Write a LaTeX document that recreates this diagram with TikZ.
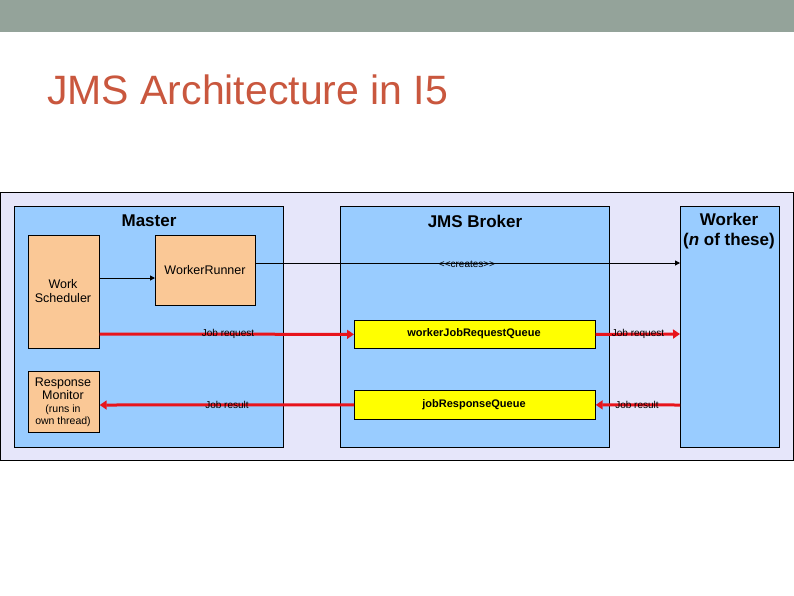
\documentclass[tikz,border=0pt]{standalone}
\usepackage{fontspec}
\setmainfont{Liberation Sans}
\usetikzlibrary{arrows.meta}
\definecolor{bar}{HTML}{94A39A}
\definecolor{ttl}{HTML}{C9573E}
\definecolor{outer}{HTML}{E6E6FA}
\definecolor{blue}{HTML}{99CCFF}
\definecolor{peach}{HTML}{FAC896}
\definecolor{yel}{HTML}{FFFF00}
\definecolor{red}{HTML}{E8141C}
\tikzset{
 box/.style={draw=black,line width=0.7pt,anchor=north west,inner sep=0pt},
 comp/.style={box,fill=peach},
 ctext/.style={align=center,font=\fontsize{12.5}{14}\selectfont,inner sep=0pt},
 panel/.style={box,fill=blue},
 queue/.style={box,fill=yel},
 qtext/.style={font=\bfseries\fontsize{11}{13}\selectfont,inner sep=0pt},
 ttltext/.style={font=\bfseries\fontsize{17}{19}\selectfont,align=center,inner sep=0pt},
 redarr/.style={draw=red,line width=3pt,-{Triangle[length=7pt,width=9pt]}},
 lbl/.style={font=\fontsize{10}{12}\selectfont,inner sep=0pt}
}
\begin{document}
\begin{tikzpicture}[x=1pt,y=-1pt]
\useasboundingbox (0,0) rectangle (794,595);
\fill[bar] (0,0) rectangle (794,32);
\node[anchor=west,text=ttl,font=\fontsize{41}{46}\selectfont,inner sep=0pt] (title) at (47,90) {JMS Architecture in I5};
\node[box,fill=outer,minimum width=793pt,minimum height=268pt] (outer) at (0,192) {};
\node[panel,minimum width=269pt,minimum height=241pt] (master) at (14,206) {};
\node[panel,minimum width=269pt,minimum height=241pt] (broker) at (340,206) {};
\node[panel,minimum width=99pt,minimum height=241pt] (worker) at (680,206) {};
\node[ttltext] (mt) at (149,221) {Master};
\node[ttltext] (bt) at (475,221) {JMS Broker};
\node[ttltext,font=\bfseries\fontsize{17}{20}\selectfont] (wt) at (729,231) {Worker\\(\textit{n} of these)};
\node[comp,minimum width=71pt,minimum height=113pt] (ws) at (28,235) {};
\node[ctext] at (63,291) {Work\\Scheduler};
\node[comp,minimum width=100pt,minimum height=70pt] (wr) at (155,235) {};
\node[ctext] at (205,270) {WorkerRunner};
\node[comp,minimum width=71pt,minimum height=61pt] (rm) at (28,371) {};
\node[ctext] at (63,402) {Response\\[-1pt]Monitor\\[-1pt]{\fontsize{10.5}{12}\selectfont (runs in}\\[-2pt]{\fontsize{10.5}{12}\selectfont own thread)}};
\node[queue,minimum width=241pt,minimum height=28pt] (rq) at (354,320) {};
\node[qtext] at (474,334) {workerJobRequestQueue};
\node[queue,minimum width=241pt,minimum height=29pt] (pq) at (354,390) {};
\node[qtext] at (474,405) {jobResponseQueue};
\draw[line width=1pt,-{Triangle[length=5pt,width=5pt]}] (ws.east |- 0,278) -- (wr.west |- 0,278);
\draw[line width=1pt,-{Triangle[length=5pt,width=5pt]}] (wr.east |- 0,263) -- (worker.west |- 0,263);
\node[lbl] at (467,264) {{<}{<}creates{>}{>}};
\draw[redarr] (ws.east |- 0,334) -- (rq.west);
\draw[redarr] (rq.east) -- (worker.west |- 0,334);
\draw[redarr] (pq.west) -- (rm.east |- 0,405);
\draw[redarr] (worker.west |- 0,405) -- (pq.east);
\node[lbl] at (228,334) {Job request};
\node[lbl] at (227,405) {Job result};
\node[lbl] at (638,334) {Job request};
\node[lbl] at (637,405) {Job result};
\end{tikzpicture}
\end{document}
